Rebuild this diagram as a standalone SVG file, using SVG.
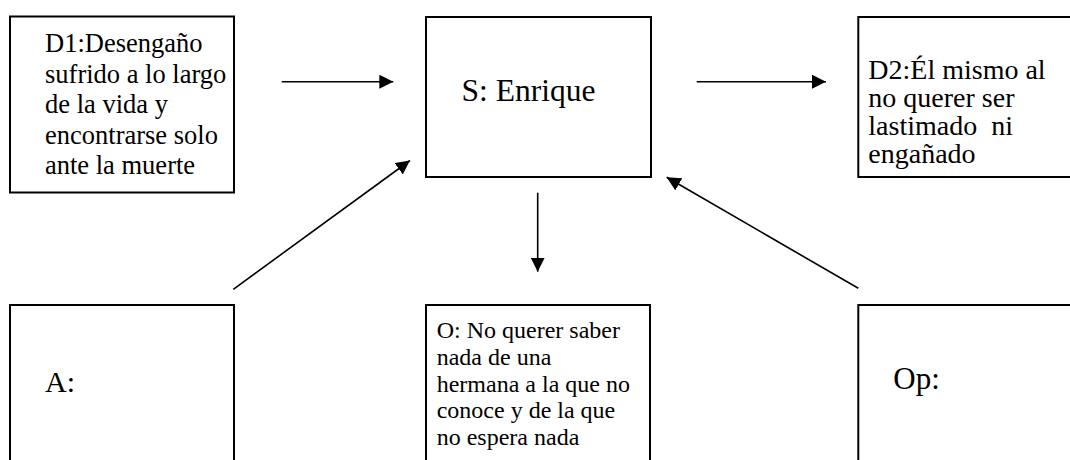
<svg xmlns="http://www.w3.org/2000/svg" width="1070" height="460" viewBox="0 0 1070 460">
  <style>
    .box { fill: #ffffff; stroke: #000000; stroke-width: 2; }
    .t { font-family: 'Liberation Serif', 'DejaVu Serif', serif; fill: #000000; }
    .conn { stroke: #000000; stroke-width: 1.6; fill: none; marker-end: url(#arrow); }
  </style>
  <defs>
    <marker id="arrow" markerUnits="userSpaceOnUse" markerWidth="16" markerHeight="14" refX="14" refY="7" orient="auto">
      <path d="M0,0 L14,7 L0,14 z" fill="#000000"/>
    </marker>
  </defs>
  <rect x="0" y="0" width="1070" height="460" fill="#ffffff"/>

  <g id="node-d1">
    <rect class="box" x="10" y="16.5" width="224" height="176"/>
    <text class="t" font-family="Liberation Serif, serif" font-size="26.5">
      <tspan x="45" y="52">D1:Desengaño</tspan>
      <tspan x="45" y="82.5">sufrido a lo largo</tspan>
      <tspan x="45" y="113">de la vida y</tspan>
      <tspan x="45" y="143.5">encontrarse solo</tspan>
      <tspan x="45" y="174">ante la muerte</tspan>
    </text>
  </g>

  <g id="node-s">
    <rect class="box" x="426" y="17" width="225" height="160"/>
    <text class="t" font-family="Liberation Serif, serif" font-size="31.5" x="461.5" y="100.5">S: Enrique</text>
  </g>

  <g id="node-d2">
    <rect class="box" x="858.3" y="17" width="230" height="160"/>
    <text class="t" font-family="Liberation Serif, serif" font-size="28">
      <tspan x="868.3" y="79">D2:Él mismo al</tspan>
      <tspan x="868.3" y="107">no querer ser</tspan>
      <tspan x="868.3" y="135" xml:space="preserve">lastimado  ni</tspan>
      <tspan x="868.3" y="162.7">engañado</tspan>
    </text>
  </g>

  <g id="node-a">
    <rect class="box" x="10" y="305" width="224" height="175"/>
    <text class="t" font-family="Liberation Serif, serif" font-size="30" x="45" y="391.5">A:</text>
  </g>

  <g id="node-o">
    <rect class="box" x="426" y="305" width="224" height="175"/>
    <text class="t" font-family="Liberation Serif, serif" font-size="24">
      <tspan x="436.7" y="337.7">O: No querer saber</tspan>
      <tspan x="436.7" y="364.7">nada de una</tspan>
      <tspan x="436.7" y="391.5">hermana a la que no</tspan>
      <tspan x="436.7" y="418.3">conoce y de la que</tspan>
      <tspan x="436.7" y="445">no espera nada</tspan>
    </text>
  </g>

  <g id="node-op">
    <rect class="box" x="858.3" y="305" width="230" height="175"/>
    <text class="t" font-family="Liberation Serif, serif" font-size="31" x="893.3" y="389">Op:</text>
  </g>

  <g id="connectors">
    <line class="conn" x1="281.7" y1="81.7" x2="393.3" y2="81.7"/>
    <line class="conn" x1="696.7" y1="81.7" x2="826" y2="81.7"/>
    <line class="conn" x1="537.7" y1="192.7" x2="537.7" y2="271.7"/>
    <line class="conn" x1="233.3" y1="289.3" x2="410" y2="160.5"/>
    <line class="conn" x1="858.3" y1="288.3" x2="666.7" y2="177.3"/>
  </g>
</svg>
